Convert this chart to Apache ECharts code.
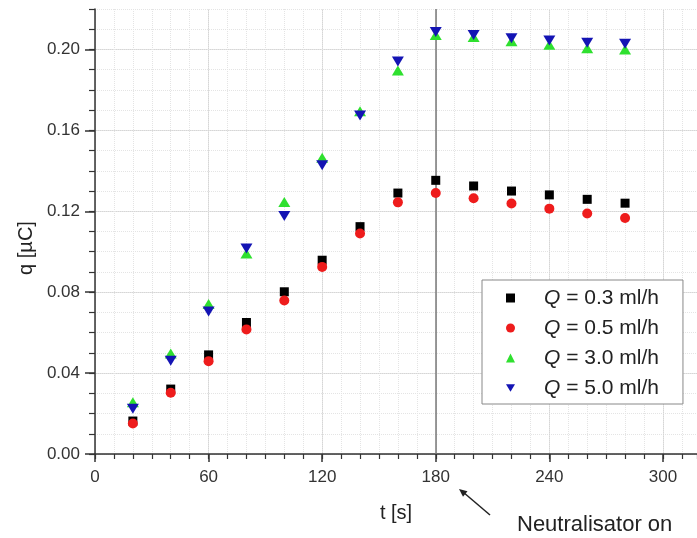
<!DOCTYPE html>
<html>
<head>
<meta charset="utf-8">
<title>q vs t</title>
<script src="https://cdn.jsdelivr.net/npm/echarts@6/dist/echarts.min.js"></script>
<style>
  html, body { margin: 0; padding: 0; background: #fff; }
  #chart { width: 697px; height: 538px; }
</style>
</head>
<body>
<div id="chart"></div>
<script>
// Measurement times [s]
const times = [20, 40, 60, 80, 100, 120, 140, 160, 180, 200, 220, 240, 260, 280];

// Charge q [µC] for each flow rate
const q03 = [0.0163, 0.0321, 0.0490, 0.0650, 0.0802, 0.0958, 0.1124, 0.1290, 0.1353, 0.1325, 0.1300, 0.1281, 0.1259, 0.1240];
const q05 = [0.0151, 0.0303, 0.0459, 0.0616, 0.0759, 0.0925, 0.1090, 0.1244, 0.1290, 0.1264, 0.1238, 0.1213, 0.1189, 0.1167];
const q30 = [0.0256, 0.0497, 0.0741, 0.0991, 0.1246, 0.1465, 0.1694, 0.1896, 0.2072, 0.2061, 0.2041, 0.2023, 0.2006, 0.2000];
const q50 = [0.0224, 0.0461, 0.0705, 0.1016, 0.1177, 0.1427, 0.1674, 0.1941, 0.2086, 0.2072, 0.2056, 0.2044, 0.2033, 0.2028];

const seriesNames = ['Q = 0.3 ml/h', 'Q = 0.5 ml/h', 'Q = 3.0 ml/h', 'Q = 5.0 ml/h'];

// Labelled (major) ticks
const xMajorTicks = [0, 60, 120, 180, 240, 300];
const yMajorTicks = [0, 0.04, 0.08, 0.12, 0.16, 0.20];

const X_MAX = 318;
const Y_MAX = 0.22;
const X_MINOR_STEP = 10;
const Y_MINOR_STEP = 0.01;
const NEUTRALISER_ON = 180;

const pairs = v => times.map((t, i) => [t, v[i]]);
const FONT = '"Liberation Sans", Arial, sans-serif';
const DOWN_TRIANGLE = 'path://M0,0L12,0L6,10Z';
const AXIS_COLOR = '#333';

const chart = echarts.init(document.getElementById('chart'), null, { renderer: 'canvas' });

// Minor axes (every 10 s / 0.01 µC): short ticks and dotted grid
const minorX = {
  type: 'value', min: 0, max: X_MAX, interval: X_MINOR_STEP, position: 'bottom',
  axisLine: { show: false },
  axisTick: { inside: false, length: 5, lineStyle: { color: AXIS_COLOR, width: 1.2 } },
  axisLabel: { show: false },
  splitLine: { show: true, lineStyle: { color: '#e4e4e4', width: 1, type: 'dotted' } }
};
const minorY = {
  type: 'value', min: 0, max: Y_MAX, interval: Y_MINOR_STEP, position: 'left',
  axisLine: { show: false },
  axisTick: { inside: false, length: 6, lineStyle: { color: AXIS_COLOR, width: 1.2 } },
  axisLabel: { show: false },
  splitLine: { show: true, lineStyle: { color: '#e4e4e4', width: 1, type: 'dotted' } }
};

chart.setOption({
  backgroundColor: '#ffffff',
  animation: false,
  grid: { left: 95, top: 9, bottom: 84, right: 0, containLabel: false },
  xAxis: [{
    type: 'value', min: 0, max: X_MAX, interval: 60, position: 'bottom',
    name: 't [s]', nameLocation: 'middle', nameGap: 49,
    nameTextStyle: { fontFamily: FONT, fontSize: 20, color: '#222' },
    axisLine: { onZero: false, lineStyle: { color: AXIS_COLOR, width: 1.5 } },
    axisTick: { inside: false, length: 8, customValues: xMajorTicks, lineStyle: { color: AXIS_COLOR, width: 1.5 } },
    axisLabel: { fontFamily: FONT, fontSize: 17, color: '#333', margin: 15, customValues: xMajorTicks },
    splitLine: { show: true, lineStyle: { color: '#d6d6d6', width: 1 } }
  }, minorX],
  yAxis: [{
    type: 'value', min: 0, max: Y_MAX, interval: 0.04, position: 'left',
    name: 'q [µC]', nameLocation: 'middle', nameGap: 58, nameRotate: 90,
    nameTextStyle: { fontFamily: FONT, fontSize: 20, color: '#222', padding: [0, 33, 0, 0] },
    axisLine: { onZero: false, lineStyle: { color: AXIS_COLOR, width: 1.5 } },
    axisTick: { inside: false, length: 10, customValues: yMajorTicks, lineStyle: { color: AXIS_COLOR, width: 1.5 } },
    axisLabel: { fontFamily: FONT, fontSize: 17, color: '#333', margin: 15, customValues: yMajorTicks,
                 formatter: v => v.toFixed(2) },
    splitLine: { show: true, lineStyle: { color: '#d6d6d6', width: 1 } }
  }, minorY],
  legend: {
    orient: 'vertical', left: 482, top: 280,
    padding: [6, 24, 4, 24], itemGap: 6,
    itemWidth: 9, itemHeight: 9,
    backgroundColor: '#ffffff', borderColor: '#888', borderWidth: 1,
    data: seriesNames,
    formatter: name => '{i|Q}' + name.slice(1),
    textStyle: {
      fontFamily: FONT, fontSize: 21, color: '#222', lineHeight: 24,
      padding: [0, 0, 0, 24],
      rich: { i: { fontFamily: FONT, fontSize: 21, fontStyle: 'italic', color: '#222', lineHeight: 24 } }
    }
  },
  series: [
    { name: seriesNames[0], type: 'scatter', data: pairs(q03), symbol: 'rect', symbolSize: 9,
      itemStyle: { color: '#000000', opacity: 1 },
      markLine: {
        silent: true, symbol: 'none', label: { show: false }, z: 1,
        lineStyle: { color: '#7a7a7a', width: 1.5, type: 'solid' },
        data: [{ xAxis: NEUTRALISER_ON }]
      } },
    { name: seriesNames[1], type: 'scatter', data: pairs(q05), symbol: 'circle', symbolSize: 10,
      itemStyle: { color: '#ee1c1c', opacity: 1 } },
    { name: seriesNames[2], type: 'scatter', data: pairs(q30), symbol: 'triangle', symbolSize: [12, 10],
      itemStyle: { color: '#2fe02f', opacity: 1 } },
    { name: seriesNames[3], type: 'scatter', data: pairs(q50), symbol: DOWN_TRIANGLE, symbolSize: [12, 10],
      itemStyle: { color: '#1414b4', opacity: 1 } }
  ],
  graphic: [
    { type: 'line', shape: { x1: 490, y1: 515, x2: 463, y2: 492 },
      style: { stroke: '#222', lineWidth: 1.5 } },
    { type: 'polygon', shape: { points: [[459, 489], [467.5, 491.2], [463, 496.8]] },
      style: { fill: '#222' } },
    { type: 'text', left: 517, top: 514,
      style: { text: 'Neutralisator on', font: '22px ' + FONT, fill: '#222' } }
  ]
});
</script>
</body>
</html>
